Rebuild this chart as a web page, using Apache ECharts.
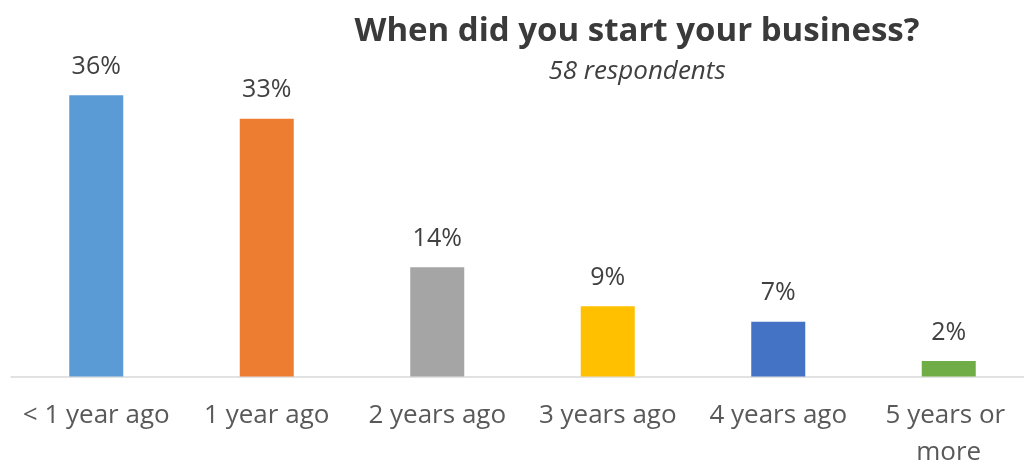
<!DOCTYPE html>
<html>
<head>
<meta charset="utf-8">
<script src="https://cdn.jsdelivr.net/npm/echarts@6/dist/echarts.min.js"></script>
<style>
  html, body { margin: 0; padding: 0; background: #ffffff; }
  #chart { width: 1024px; height: 460px; }
</style>
</head>
<body>
<div id="chart"></div>
<script>
// Survey: when respondents started their business (share of 58 respondents, %)
const categories = ['< 1 year ago', '1 year ago', '2 years ago', '3 years ago', '4 years ago', '5 years or more'];
const shares = [36, 33, 14, 9, 7, 2];
const barColors = ['#5B9BD5', '#ED7D31', '#A5A5A5', '#FFC000', '#4472C4', '#70AD47'];
const titleText = 'When did you start your business?';
const subtitleText = '58 respondents';

const FONT = "'Open Sans', 'Noto Sans', sans-serif";

const chart = echarts.init(document.getElementById('chart'), null, { renderer: 'canvas' });

chart.setOption({
  animation: false,
  backgroundColor: '#ffffff',
  title: {
    text: titleText,
    subtext: subtitleText,
    left: 637,
    top: 15,
    textAlign: 'center',
    padding: 0,
    itemGap: 11,
    textStyle: {
      fontFamily: FONT,
      fontSize: 33,
      fontWeight: 'bold',
      color: '#3a3a3a'
    },
    subtextStyle: {
      fontFamily: FONT,
      fontSize: 26,
      fontStyle: 'italic',
      color: '#404040'
    }
  },
  grid: {
    left: 11,
    width: 1023,
    top: 64,
    bottom: 83.5,
    containLabel: false,
    outerBoundsMode: 'none'
  },
  xAxis: {
    type: 'category',
    data: categories,
    axisLine: { show: true, lineStyle: { color: '#d9d9d9', width: 1.5 } },
    axisTick: { show: false },
    axisLabel: {
      interval: 0,
      margin: 21,
      fontFamily: FONT,
      fontSize: 26,
      color: '#595959',
      width: 168,
      overflow: 'break',
      lineHeight: 37
    }
  },
  yAxis: {
    type: 'value',
    min: 0,
    max: 40,
    show: false,
    splitLine: { show: false }
  },
  series: [{
    type: 'bar',
    data: shares.map((v, i) => ({ value: v, itemStyle: { color: barColors[i] } })),
    barWidth: 54,
    label: {
      show: true,
      position: 'top',
      distance: 16,
      formatter: p => p.value + '%',
      fontFamily: FONT,
      fontSize: 25,
      color: '#404040'
    }
  }]
});
</script>
</body>
</html>
